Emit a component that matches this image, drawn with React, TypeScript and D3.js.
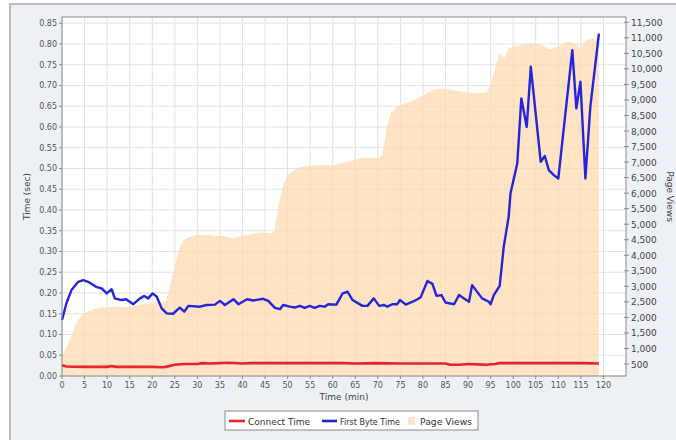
import React from "react";
import * as d3 from "d3";

const xTicks = d3.range(0, 121, 5);
const leftTicks = d3.range(0, 0.851, 0.05);
const rightTicks = d3.range(500, 11501, 500);

const pvTime = [0,1,2,3,4,5,6,8,10,12,14,16,18,20,22,23,24,25,26,27,28,30,32,34,36,38,40,42,44,46,47,48,49,50,52,54,56,58,60,62,64,66,68,70,71,72,73,74,76,78,80,82,84,86,88,90,92,94,95,96,97,98,99,100,102,104,106,108,110,112,114,115,116,118,119];
const pageViews = [790,1050,1370,1750,2010,2140,2200,2300,2330,2360,2330,2360,2430,2460,2490,2530,3040,3680,4230,4490,4580,4650,4650,4620,4620,4550,4620,4680,4740,4710,4740,5610,6250,6580,6800,6870,6900,6900,6900,6960,7030,7120,7150,7120,7220,8180,8600,8760,8890,8990,9150,9310,9370,9340,9280,9240,9210,9240,9470,10020,10530,10340,10660,10720,10760,10820,10790,10630,10720,10880,10790,10630,10920,10980,10980];

const fbTime = [0,1,2.1,3.6,4.7,5.8,7.7,8.8,9.9,11,11.7,13.2,14.2,15.8,17.3,18.2,19.1,20.1,21,22.1,23.2,24.6,26.1,27.1,28,30.6,32,33.9,35,36.1,38,39.1,41,42.4,44.6,45.7,47.2,48.3,49,50.5,51.6,52.7,53.8,54.9,56,57.1,58.2,59,60.8,62.2,63.3,64.4,66.6,67.7,69.1,70.3,71.4,72.1,73.2,74.3,74.9,76.2,77.7,78.8,79.5,81,82.1,83,84.1,85,86.9,88,89.1,90.2,90.9,93.1,94.6,95,95.7,97,97.9,99,99.4,100.9,101.8,103,103.9,106.1,107,107.9,109,110,113.1,114,114.9,116,117.1,119];
const firstByte = [0.135,0.176,0.207,0.227,0.231,0.227,0.214,0.211,0.199,0.209,0.187,0.183,0.185,0.173,0.187,0.193,0.187,0.199,0.191,0.163,0.151,0.150,0.165,0.155,0.169,0.167,0.171,0.172,0.181,0.171,0.185,0.173,0.185,0.182,0.186,0.181,0.164,0.161,0.171,0.167,0.165,0.169,0.164,0.169,0.164,0.169,0.167,0.173,0.172,0.199,0.203,0.183,0.169,0.169,0.187,0.169,0.171,0.167,0.173,0.173,0.183,0.172,0.179,0.185,0.190,0.229,0.222,0.193,0.195,0.177,0.173,0.195,0.187,0.179,0.219,0.187,0.179,0.173,0.195,0.217,0.311,0.384,0.440,0.512,0.669,0.600,0.745,0.516,0.530,0.496,0.484,0.476,0.785,0.645,0.709,0.476,0.649,0.825];

const ctTime = [0,1,5,10,11,12,15,20,22,23,25,27,30,31,33,35,37,40,42,45,50,55,60,62,65,70,75,80,85,86,88,90,92,94,96,97,100,105,110,115,119];
const connect = [0.026,0.023,0.022,0.022,0.024,0.022,0.022,0.022,0.021,0.022,0.027,0.029,0.029,0.031,0.030,0.031,0.032,0.030,0.031,0.031,0.031,0.031,0.031,0.031,0.030,0.031,0.030,0.030,0.030,0.027,0.027,0.029,0.028,0.027,0.029,0.031,0.031,0.031,0.031,0.031,0.030];

const legendItems = ["Connect Time", "First Byte Time", "Page Views"];

const W = 676, H = 440;
const L = 62, R = 626, T = 17, B = 376;
const FONT = "DejaVu Sans, Verdana, sans-serif";

export default function App() {
  const x = d3.scaleLinear().domain([0, 125]).range([L, R]);
  const yL = d3.scaleLinear().domain([0, 0.865]).range([B, T]);
  const yR = d3.scaleLinear().domain([114, 11670]).range([B, T]);

  const pvData = pvTime.map((t, i) => [t, pageViews[i]] as [number, number]);
  const area = d3.area<[number, number]>().x(d => x(d[0])).y0(B).y1(d => yR(d[1]))(pvData) || "";
  const fbLine = d3.line<number>().x((_, i) => x(fbTime[i])).y(d => yL(d))(firstByte) || "";
  const ctLine = d3.line<number>().x((_, i) => x(ctTime[i])).y(d => yL(d))(connect) || "";

  const lc = [
    { label: legendItems[0], color: "#e8242b", x0: 229, x1: 245, tx: 248, tw: 62, type: "line" },
    { label: legendItems[1], color: "#2424d8", x0: 322, x1: 337, tx: 340, tw: 60, type: "line" },
    { label: legendItems[2], color: "#fde4c8", x0: 408, x1: 415, tx: 420, tw: 52, type: "rect" },
  ];

  return (
    <svg width={W} height={H} style={{ position: "absolute", left: 0, top: 0 }} fontFamily={FONT}>
      <rect x={0} y={0} width={W} height={H} fill="#ffffff" />
      <rect x={10} y={4} width={680} height={460} fill="#edf1f6" stroke="#bdbdbd" strokeWidth={2} />
      <rect x={L} y={T} width={R - L} height={B - T} fill="#ffffff" />
      {xTicks.map(t => (
        <line key={"gx" + t} x1={x(t)} x2={x(t)} y1={T} y2={B} stroke="#e2e2e2" strokeWidth={1} />
      ))}
      {leftTicks.map(t => (
        <line key={"gy" + t} x1={L} x2={R} y1={yL(t)} y2={yL(t)} stroke="#e2e2e2" strokeWidth={1} />
      ))}
      <path d={area} fill="#ffdab2" fillOpacity={0.75} />
      <path d={ctLine} fill="none" stroke="#e8242b" strokeWidth={2.6} strokeLinejoin="round" />
      <path d={fbLine} fill="none" stroke="#2424d8" strokeWidth={2.4} strokeLinejoin="round" />
      <rect x={L} y={T} width={R - L} height={B - T} fill="none" stroke="#8a8a8a" strokeWidth={1} />

      {leftTicks.map(t => (
        <g key={"lt" + t}>
          <line x1={L - 3} x2={L} y1={yL(t)} y2={yL(t)} stroke="#8a8a8a" />
          <text x={L - 5} y={yL(t) + 3} fontSize={8} fill="#555" textAnchor="end">{t.toFixed(2)}</text>
        </g>
      ))}
      {xTicks.map(t => (
        <g key={"xt" + t}>
          <line x1={x(t)} x2={x(t)} y1={B} y2={B + 3} stroke="#8a8a8a" />
          <text x={x(t)} y={B + 12} fontSize={8} fill="#555" textAnchor="middle">{t}</text>
        </g>
      ))}
      {rightTicks.map(t => (
        <g key={"rt" + t}>
          <line x1={R - 2} x2={R + 3} y1={yR(t)} y2={yR(t)} stroke="#8a8a8a" />
          <text x={R + 5} y={yR(t) + 3.5} fontSize={9} fill="#444">{d3.format(",")(t)}</text>
        </g>
      ))}
      <text transform={`translate(30,${(T + B) / 2}) rotate(-90)`} fontSize={9} fill="#444" textAnchor="middle">Time (sec)</text>
      <text transform={`translate(667,${(T + B) / 2}) rotate(90)`} fontSize={9} fill="#444" textAnchor="middle">Page Views</text>
      <text x={(L + R) / 2} y={400} fontSize={9} fill="#444" textAnchor="middle">Time (min)</text>

      <rect x={225} y={411} width={253} height={19} fill="#ffffff" stroke="#8a8a8a" strokeWidth={1} />
      {lc.map(it => (
        <g key={it.label}>
          {it.type === "line" ? (
            <line x1={it.x0} x2={it.x1} y1={421} y2={421} stroke={it.color} strokeWidth={2.6} />
          ) : (
            <rect x={it.x0} y={417} width={it.x1 - it.x0} height={8} fill={it.color} />
          )}
          <text x={it.tx} y={424.5} fontSize={9} fill="#333" textLength={it.tw} lengthAdjust="spacingAndGlyphs">{it.label}</text>
        </g>
      ))}
    </svg>
  );
}
